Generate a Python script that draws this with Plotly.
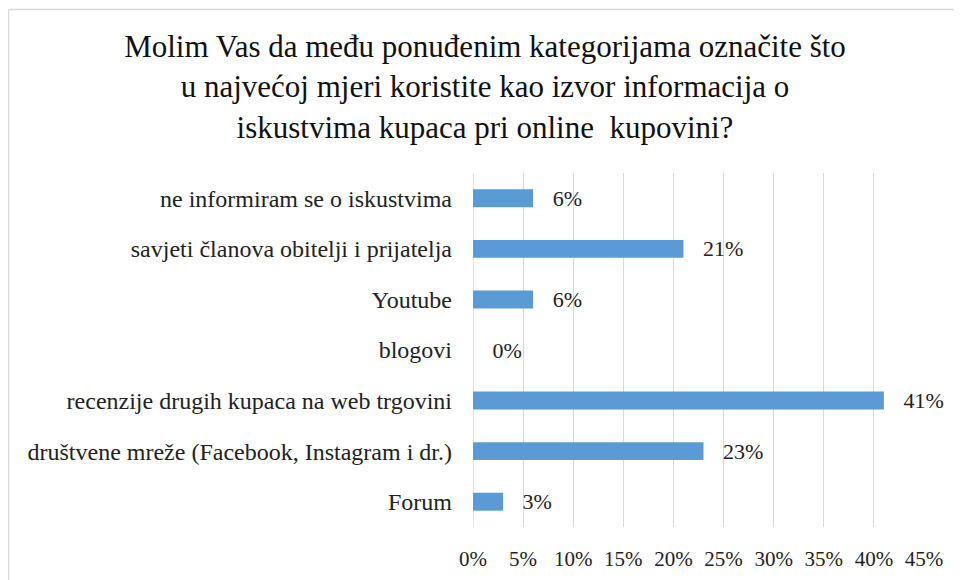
import plotly.graph_objects as go

# categories listed bottom -> top (as drawn by the horizontal bar chart)
categories = [
    "Forum",
    "društvene mreže (Facebook, Instagram i dr.)",
    "recenzije drugih kupaca na web trgovini",
    "blogovi",
    "Youtube",
    "savjeti članova obitelji i prijatelja",
    "ne informiram se o iskustvima",
]
shares = [0.03, 0.23, 0.41, 0.00, 0.06, 0.21, 0.06]
tick_values = [0, 0.05, 0.10, 0.15, 0.20, 0.25, 0.30, 0.35, 0.40, 0.45]

title_lines = [
    "Molim Vas da među ponuđenim kategorijama označite što",
    "u najvećoj mjeri koristite kao izvor informacija o",
    "iskustvima kupaca pri online  kupovini?",
]

FONT = "Liberation Serif"
# the page body adds an 8px margin, so the figure is 8px smaller than the window
W, H = 954, 572
L, R, T, B = 465, 38, 165, 53

fig = go.Figure()

fig.add_trace(
    go.Bar(
        x=shares,
        y=categories,
        orientation="h",
        marker=dict(color="#5B9BD5", line=dict(width=0)),
        text=["   " + f"{v:.0%}" for v in shares],
        textposition="outside",
        constraintext="none",
        textfont=dict(family=FONT, size=22, color="#222222"),
        cliponaxis=False,
        hoverinfo="skip",
    )
)

# gridline at 0% (plotly drops the one sitting on the range edge)
fig.add_shape(
    type="line", xref="x", yref="paper",
    x0=0, x1=0, y0=0, y1=1,
    line=dict(color="#d9d9d9", width=1.5),
    layer="between",
)

pw, ph = W - L - R, H - T - B
# chart frame (top and left edges visible in the reference)
fig.add_shape(
    type="line", xref="paper", yref="paper",
    x0=(0.5 - L) / pw, x1=(W + 10 - L) / pw,
    y0=1 + (T - 1.5) / ph, y1=1 + (T - 1.5) / ph,
    line=dict(color="#d9d9d9", width=1.5),
)
fig.add_shape(
    type="line", xref="paper", yref="paper",
    x0=(0.5 - L) / pw, x1=(0.5 - L) / pw,
    y0=1 + (T - 1.5) / ph, y1=-(B + 10) / ph,
    line=dict(color="#d9d9d9", width=1.5),
)

fig.update_layout(
    width=W,
    height=H,
    margin=dict(l=L, r=R, t=T, b=B, autoexpand=False),
    paper_bgcolor="white",
    plot_bgcolor="white",
    showlegend=False,
    bargap=0.645,
    font=dict(family=FONT, size=22, color="#222222"),
    title=dict(
        text="<br>".join(title_lines),
        font=dict(family=FONT, size=31, color="#111111"),
        x=0.5,
        xref="container",
        xanchor="center",
        y=1 - 49 / H,
        yanchor="top",
    ),
    xaxis=dict(
        range=[0, 0.45],
        tickvals=tick_values,
        tickformat=".0%",
        showgrid=True,
        gridcolor="#d9d9d9",
        gridwidth=1,
        zeroline=False,
        showline=False,
        ticks="",
        ticklabelstandoff=17,
        tickfont=dict(family=FONT, size=21, color="#222222"),
        fixedrange=True,
    ),
    yaxis=dict(
        showgrid=False,
        zeroline=False,
        showline=False,
        ticks="",
        ticklabelstandoff=20,
        tickfont=dict(family=FONT, size=24, color="#222222"),
        fixedrange=True,
    ),
)

fig.write_html("out.html")
